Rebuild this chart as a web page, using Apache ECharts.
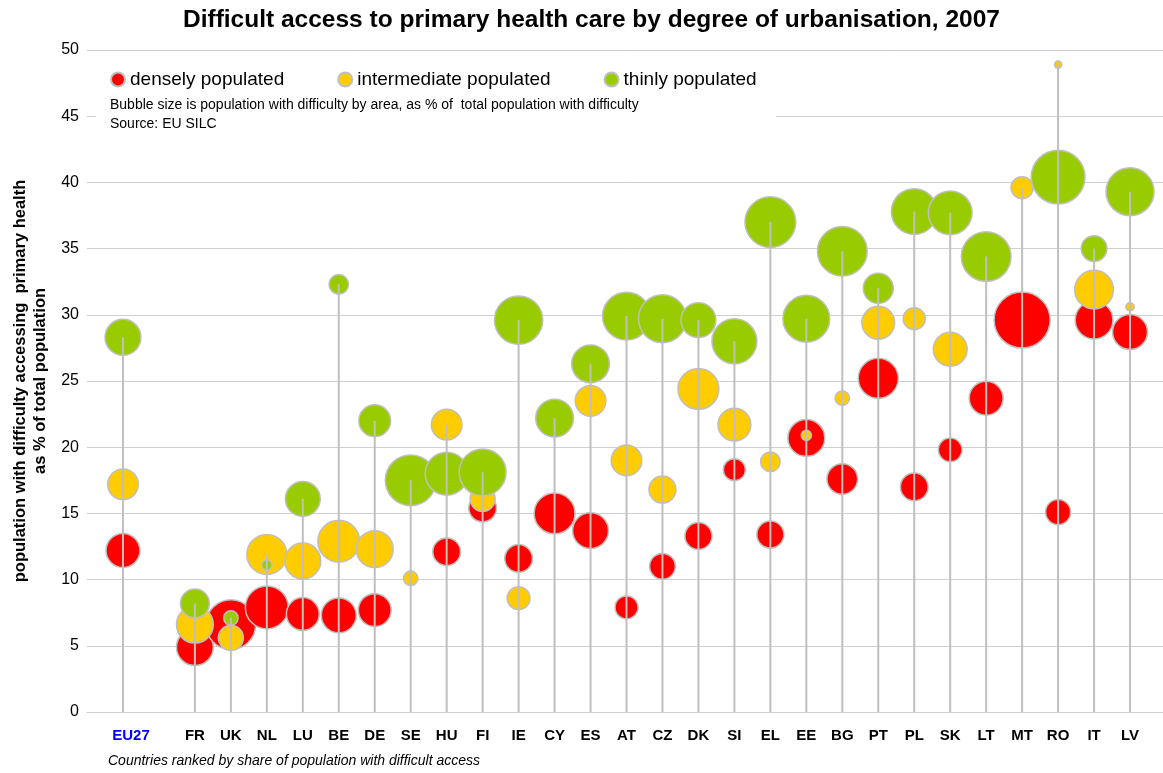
<!DOCTYPE html>
<html>
<head>
<meta charset="utf-8">
<title>Difficult access to primary health care</title>
<script src="https://cdn.jsdelivr.net/npm/echarts@6/dist/echarts.min.js"></script>
<style>
  html, body { margin: 0; padding: 0; background: #fff; }
  #main { width: 1163px; height: 773px; }
</style>
</head>
<body>
<div id="main"></div>
<script>
// countries in ranked order (EU27 first, then a gap)
var countries = ['EU27', 'FR', 'UK', 'NL', 'LU', 'BE', 'DE', 'SE', 'HU', 'FI', 'IE', 'CY', 'ES', 'AT',
    'CZ', 'DK', 'SI', 'EL', 'EE', 'BG', 'PT', 'PL', 'SK', 'LT', 'MT', 'RO', 'IT', 'LV'];

// % of population with difficult access, by area
var densely = [12.2, 4.9, 6.6, 7.9, 7.4, 7.3, 7.7, null, 12.1, 15.4, 11.6, 15.0, 13.7, 7.9,
    11.0, 13.3, 18.3, 13.4, 20.7, 17.6, 25.2, 17.0, 19.8, 23.7, 29.6, 15.1, 29.6, 28.7];
var intermediate = [17.2, 6.6, 5.6, 11.9, 11.4, 12.9, 12.3, 10.1, 21.7, 16.1, 8.6, null, 23.5, 19.0,
    16.8, 24.4, 21.7, 18.9, 20.9, 23.7, 29.4, 29.7, 27.4, null, 39.6, 48.9, 31.9, 30.6];
var thinly = [28.3, 8.2, 7.1, 11.1, 16.1, 32.3, 22.0, 17.5, 18.0, 18.1, 29.6, 22.2, 26.3, 29.9,
    29.7, 29.6, 28.0, 37.0, 29.7, 34.8, 32.0, 37.8, 37.7, 34.4, null, 40.4, 35.0, 39.3];

// bubble size: population with difficulty by area, as % of total population with difficulty
var sizeDensely = [33, 39, 71, 53, 31, 35, 31, null, 22, 22, 22, 48, 37, 15,
    19, 21, 14, 21, 39, 27, 46, 22, 16, 33, 90, 18, 41, 35];
var sizeIntermediate = [27, 39, 18, 46, 37, 50, 39, 6, 27, 18, 15, null, 27, 27,
    21, 48, 31, 11, 3, 6, 31, 14, 33, null, 14, 1.5, 43, 2];
var sizeThinly = [37, 24, 6, 3, 35, 11, 29, 74, 53, 63, 67, 41, 41, 66,
    66, 35, 58, 74, 63, 71, 26, 60, 55, 71, null, 83, 19, 66];

// category slots: empty slot before EU27, between EU27 and FR, and after LV
var categories = [''].concat([countries[0], ''], countries.slice(1), ['']);
function slot(i) { return i === 0 ? 1 : i + 2; }

function points(vals, sizes) {
    var out = [];
    for (var i = 0; i < countries.length; i++) {
        if (vals[i] == null) continue;
        out.push([slot(i), vals[i], sizes[i]]);
    }
    return out;
}

var stems = [];
for (var i = 0; i < countries.length; i++) {
    var m = Math.max(densely[i] || 0, intermediate[i] || 0, thinly[i] || 0);
    stems.push([slot(i), m]);
}

var font = 'Liberation Sans, Arial, sans-serif';
var bubbleBorder = { borderColor: '#bfbfbf', borderWidth: 1.5 };
function bubbleSize(d) { return 5.9 * Math.sqrt(d[2]); }

var option = {
    backgroundColor: '#fff',
    animation: false,
    textStyle: { fontFamily: font },
    title: {
        text: 'Difficult access to primary health care by degree of urbanisation, 2007',
        left: 178,
        top: 3,
        textStyle: { fontSize: 24.5, fontWeight: 'bold', color: '#000', fontFamily: font }
    },
    legend: {
        left: 105,
        top: 65,
        z: 20,
        itemGap: 53,
        itemWidth: 14,
        itemHeight: 14,
        textStyle: { fontSize: 19, color: '#000', fontFamily: font },
        data: ['densely populated', 'intermediate populated', 'thinly populated']
    },
    grid: { left: 87, right: -3, top: 50, bottom: 61, outerBoundsMode: 'none' },
    xAxis: {
        type: 'category',
        data: categories,
        boundaryGap: false,
        axisLine: { show: true, lineStyle: { color: '#d0d0d0', width: 1 } },
        axisTick: { show: false },
        splitLine: { show: false },
        axisLabel: {
            interval: 0,
            margin: 16,
            fontSize: 15,
            fontWeight: 'bold',
            color: '#000',
            formatter: function (v) { return v === 'EU27' ? '{eu|EU27}' : v; },
            rich: { eu: { color: '#0000ff', fontSize: 15, fontWeight: 'bold', padding: [0, 0, 0, 16] } }
        }
    },
    yAxis: {
        type: 'value',
        min: 0,
        max: 50,
        interval: 5,
        name: 'population with difficulty accessing  primary health\nas % of total population',
        nameLocation: 'middle',
        nameRotate: 90,
        nameGap: 37,
        nameTextStyle: { fontSize: 16.5, fontWeight: 'bold', color: '#000', lineHeight: 20, fontFamily: font },
        axisLine: { show: false },
        axisTick: { show: false },
        axisLabel: { fontSize: 16, color: '#000', margin: 8 },
        splitLine: { lineStyle: { color: '#d0d0d0', width: 1 } }
    },
    graphic: [
        { type: 'rect', z: 10, shape: { x: 96, y: 56, width: 680, height: 80 }, style: { fill: '#fff' } },
        { type: 'text', z: 11, left: 110, top: 98,
          style: { text: 'Bubble size is population with difficulty by area, as % of  total population with difficulty',
                   fontSize: 14, fill: '#000', fontFamily: font } },
        { type: 'text', z: 11, left: 110, top: 117,
          style: { text: 'Source: EU SILC', fontSize: 14, fill: '#000', fontFamily: font } },
        { type: 'text', z: 11, left: 108, top: 754,
          style: { text: 'Countries ranked by share of population with difficult access',
                   fontSize: 14, fontStyle: 'italic', fill: '#000', fontFamily: font } }
    ],
    series: [
        {
            name: 'densely populated',
            type: 'scatter',
            z: 2,
            data: points(densely, sizeDensely),
            symbolSize: bubbleSize,
            itemStyle: Object.assign({ color: '#ff0000', opacity: 1 }, bubbleBorder)
        },
        {
            name: 'intermediate populated',
            type: 'scatter',
            z: 2,
            data: points(intermediate, sizeIntermediate),
            symbolSize: bubbleSize,
            itemStyle: Object.assign({ color: '#ffcc00', opacity: 1 }, bubbleBorder)
        },
        {
            name: 'thinly populated',
            type: 'scatter',
            z: 2,
            data: points(thinly, sizeThinly),
            symbolSize: bubbleSize,
            itemStyle: Object.assign({ color: '#99cc00', opacity: 1 }, bubbleBorder)
        },
        {
            name: 'stems',
            type: 'bar',
            z: 5,
            barWidth: 2,
            data: stems,
            itemStyle: { color: '#bfbfbf' },
            silent: true
        }
    ]
};

var myChart = echarts.init(document.getElementById('main'));
myChart.setOption(option);
</script>
</body>
</html>
